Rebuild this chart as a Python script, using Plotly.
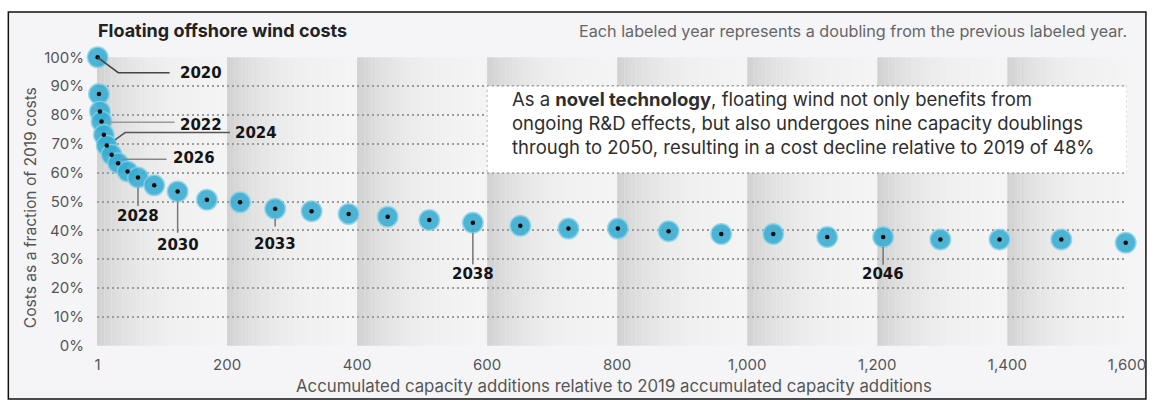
import numpy as np
import plotly.graph_objects as go

# ---- data -----------------------------------------------------------------
years = list(range(2019, 2051))
capacity = [1, 3, 4.5, 7, 10.5, 15, 22.5, 32.5, 47, 63,
            88, 124, 169, 220, 274, 330, 387, 447, 511, 578,
            651, 725, 801, 879, 960, 1040, 1123, 1209, 1297, 1388,
            1483, 1582]
cost_pct = [100, 87.3, 81.2, 77.7, 73.1, 69.4, 66.2, 63.3, 60.4, 58.3,
            55.6, 53.5, 50.6, 49.7, 47.5, 46.6, 45.7, 44.7, 43.6, 42.6,
            41.6, 40.6, 40.6, 39.7, 38.7, 38.7, 37.7, 37.7, 36.8, 36.8,
            36.8, 35.7]

label_text = ["2020", "2022", "2024", "2026", "2028", "2030", "2033", "2038", "2046"]
label_point = [0, 3, 5, 7, 9, 11, 14, 19, 27]

x_tick_vals = [1, 200, 400, 600, 800, 1000, 1200, 1400]
x_tick_text = ["1", "200", "400", "600", "800", "1,000", "1,200", "1,400", "1,600"]
y_tick_vals = [0, 10, 20, 30, 40, 50, 60, 70, 80, 90, 100]
y_tick_text = [f"{v}%" for v in y_tick_vals]

note_lines = [
    "As a <b>novel technology</b>, floating wind not only benefits from",
    "ongoing R&D effects, but also undergoes nine capacity doublings",
    "through to 2050, resulting in a cost decline relative to 2019 of 48%",
]

# ---- geometry ---------------------------------------------------------------
W, H = 1158, 401
L, R, T, B = 97, 27, 57, 55
PW, PH = W - L - R, H - T - B
X_MAX = 1584
BAND_STEP = 200
FONT = "Inter"
TICK_COLOR = "#555555"


def px(x):
    return (x - L) / PW


def py(y):
    return (H - B - y) / PH


fig = go.Figure()

shapes = []
# outer frame
shapes.append(dict(type="rect", xref="paper", yref="paper",
                   x0=px(8), x1=px(1150), y0=py(399), y1=py(12),
                   fillcolor="#f5f5f7", line=dict(color="#111111", width=1.5),
                   layer="below"))

# shaded columns: each 200-unit band fades from grey (left) to near white (right)
edges = list(range(0, X_MAX, BAND_STEP)) + [X_MAX]
n_strips = 36
for a, b in zip(edges[:-1], edges[1:]):
    w = (b - a) / n_strips
    for k in range(n_strips):
        t = (k + 0.5) / n_strips
        g = int(round(246 - 38 * np.exp(-3.0 * t)))
        shapes.append(dict(type="rect", xref="x", yref="y",
                           x0=a + k * w, x1=a + (k + 1) * w + 0.3, y0=0, y1=100,
                           fillcolor=f"rgb({g},{g},{g})", line=dict(width=0),
                           layer="below"))

# white note box
shapes.append(dict(type="rect", xref="x", yref="y", x0=600, x1=X_MAX, y0=60, y1=90,
                   fillcolor="white", line=dict(color="#b5b5b5", width=1, dash="2px,3px"),
                   layer="between"))

# leader lines (pixel offsets from the labelled point), label offsets
leaders = [
    ([(0, 0), (20.6, -15.4), (72, -15.4)], "#444444", "left", 80, -15.7),
    ([(8, -0.6), (73, -0.6)], "#9a9a9a", "left", 76, -3.3),
    ([(8.3, 5.7), (18.3, 13), (123.3, 13)], "#555555", "left", 126, 12.4),
    ([(3.4, 4), (48.4, 4)], "#888888", "left", 52.7, 5.6),
    ([(0, -10), (0, -28.4)], "#777777", "center", 0, -38.4),
    ([(0, -10), (0, -41.3)], "#777777", "center", 0, -53.3),
    ([(0, -10), (0, -17.7)], "#777777", "center", 0, -35.3),
    ([(0, -10), (0, -41.7)], "#777777", "center", 0, -51.0),
    ([(0, -10), (0, -27.7)], "#777777", "center", 0, -36.7),
]

annotations = []
for text, idx, (pts, col, anchor, dx, dy) in zip(label_text, label_point, leaders):
    xv, yv = capacity[idx], cost_pct[idx]
    path = "M" + " L".join(f"{p[0]},{p[1]}" for p in pts)
    shapes.append(dict(type="path", xref="x", yref="y",
                       xsizemode="pixel", ysizemode="pixel",
                       xanchor=xv, yanchor=yv, path=path,
                       line=dict(color=col, width=1.5), layer="above"))
    annotations.append(dict(x=xv, y=yv, xref="x", yref="y", text=f"<b>{text}</b>",
                            showarrow=False, xanchor=anchor, yanchor="middle",
                            xshift=dx, yshift=dy,
                            font=dict(family="DejaVu Sans", size=15, color="#151515")))

# note text inside the white box
annotations.append(dict(x=px(512), y=py(123), xref="paper", yref="paper",
                        text="<br>".join(note_lines), showarrow=False,
                        xanchor="left", yanchor="middle", align="left",
                        font=dict(family=FONT, size=18.5, color="#2e2e2e")))

# titles
annotations += [
    dict(x=px(96), y=py(31), xref="paper", yref="paper",
         text="<b>Floating offshore wind costs</b>", showarrow=False,
         xanchor="left", yanchor="middle", font=dict(family=FONT, size=18, color="#222222")),
    dict(x=px(1133), y=py(31), xref="paper", yref="paper",
         text="Each labeled year represents a doubling from the previous labeled year.",
         showarrow=False, xanchor="right", yanchor="middle",
         font=dict(family=FONT, size=16.2, color="#666666")),
    dict(x=px(30), y=py(208), xref="paper", yref="paper",
         text="Costs as a fraction of 2019 costs", showarrow=False, textangle=-90,
         xanchor="center", yanchor="middle", font=dict(family=FONT, size=15.6, color=TICK_COLOR)),
    dict(x=px(616), y=py(386), xref="paper", yref="paper",
         text="Accumulated capacity additions relative to 2019 accumulated capacity additions",
         showarrow=False, xanchor="center", yanchor="middle",
         font=dict(family=FONT, size=16.8, color=TICK_COLOR)),
]

# markers
fig.add_trace(go.Scatter(
    x=capacity, y=cost_pct, mode="markers", cliponaxis=False, hoverinfo="skip",
    marker=dict(size=20.5, color="#37acd2", opacity=0.88,
                line=dict(color="rgba(130,208,232,0.9)", width=1.5)),
    showlegend=False))
fig.add_trace(go.Scatter(
    x=capacity, y=cost_pct, mode="markers", cliponaxis=False,
    text=[str(y) for y in years], hovertemplate="%{text}: %{y:.1f}%<extra></extra>",
    marker=dict(size=4.5, color="#0a0a0a"), showlegend=False))

fig.update_layout(
    width=W, height=H,
    margin=dict(l=L, r=R, t=T, b=B),
    paper_bgcolor="white", plot_bgcolor="#f5f5f7",
    shapes=shapes, annotations=annotations,
    font=dict(family=FONT, size=15, color=TICK_COLOR),
    xaxis=dict(range=[0, X_MAX], tickvals=x_tick_vals + [X_MAX], ticktext=x_tick_text,
               showgrid=False, zeroline=False, showline=False, ticks="",
               ticklabelstandoff=8, tickfont=dict(family=FONT, size=15, color=TICK_COLOR)),
    yaxis=dict(range=[-0.1, 100.1], tickvals=y_tick_vals, ticktext=y_tick_text,
               showgrid=True, gridcolor="#9c9c9c", gridwidth=2, griddash="2px,3px",
               zeroline=False, showline=False, ticks="", ticklabelstandoff=12,
               tickfont=dict(family=FONT, size=15, color=TICK_COLOR)),
)

fig.write_html("out.html")
